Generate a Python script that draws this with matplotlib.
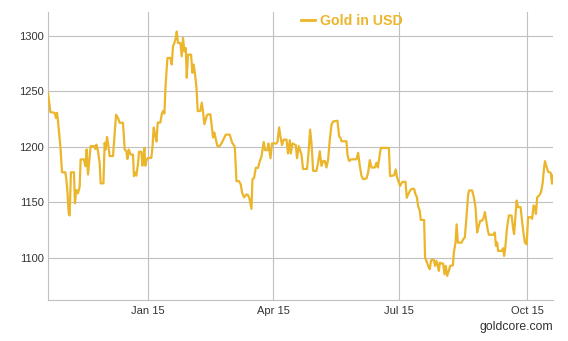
import matplotlib
matplotlib.use('Agg')
import matplotlib.pyplot as plt
import pandas as pd

# x values: days relative to 2015-01-01
days_from_2015_01_01 = [
    -72.0, -70.3, -67.2, -66.3, -65.5, -64.8, -63.1, -61.9, -59.5, -58.8,
    -58.1, -57.1, -56.4, -55.5, -53.3, -52.6, -51.6, -50.4, -49.2, -48.5,
    -46.1, -45.1, -44.2, -43.2, -42.2, -41.3, -38.9, -37.9, -37.2, -36.0,
    -34.8, -34.1, -32.1, -31.2, -30.5, -29.5, -28.5, -27.6, -25.2, -24.0,
    -23.0, -21.6, -20.4, -18.0, -16.8, -15.6, -14.8, -13.9, -12.5, -10.8, -10.1,
    -9.4, -8.4, -7.2, -6.5, -4.8, -4.0, -3.3, -2.6, -1.9, -1.2,
    0.0, 2.4, 3.2, 4.1, 5.0, 6.1, 7.0, 8.9, 9.9, 10.8,
    11.8, 12.7, 14.0, 16.1, 17.1, 18.0, 19.0, 20.0, 20.7, 21.6,
    23.3, 24.3, 25.2, 26.2, 27.2, 27.9, 28.8, 31.0, 32.0, 32.9,
    33.9, 34.9, 35.8, 37.7, 38.7, 39.6, 40.6, 41.6, 42.5, 43.5,
    44.9, 45.9, 46.8, 47.8, 48.8,
    50.0, 51.6, 53.3, 56.0, 58.8, 60.5, 62.5, 63.7, 65.5, 66.8,
    67.7, 69.1, 70.9, 72.0, 73.0, 74.5, 75.2, 76.4, 77.6, 79.2,
    80.7, 81.7, 83.3, 84.3, 86.0, 86.7, 88.2, 89.3, 92.5, 93.2,
    94.4, 95.4, 96.5, 97.7, 99.7, 100.8, 102.1, 102.8, 104.0, 106.4,
    107.3, 108.6,
    110.5, 111.6, 114.5, 115.8, 116.7, 117.7, 118.9, 121.3, 122.5, 123.7,
    124.9, 126.1, 127.3, 128.5, 129.7, 130.9, 132.1, 133.3, 136.4, 137.6,
    138.6, 139.3, 142.9, 143.6, 144.8, 146.5, 150.1, 151.3, 152.5, 153.7,
    154.9, 157.3, 158.5, 159.7, 160.9, 163.3, 164.5, 165.5, 166.4, 167.6,
    172.2, 173.4,
    174.3, 177.2, 178.4, 179.4, 180.6, 181.5, 183.0, 185.4, 186.3, 187.3,
    188.5, 189.7, 191.6, 192.6, 193.5, 194.5, 195.7, 196.4, 198.8, 199.5,
    200.5, 201.7, 202.9, 203.8, 205.8, 206.7, 207.7, 208.7, 209.4, 210.1,
    211.3, 212.5, 213.5, 214.4, 215.4, 216.6, 217.5, 219.5, 220.2, 221.4,
    222.2, 223.1, 225.8, 226.9, 228.1,
    229.1, 230.5, 231.2, 233.4, 234.6, 235.8, 237.0, 238.2, 239.2, 240.6,
    241.8, 242.6, 243.3, 244.5, 245.4, 248.5, 249.7, 250.5, 251.4, 252.1,
    254.6, 255.7, 256.4, 257.2, 258.4, 259.8, 261.8, 262.9, 263.6, 264.6,
    265.4, 266.5, 268.3, 269.4, 270.6, 271.4, 272.6, 273.7, 275.7, 276.6,
    277.6, 278.6, 279.3, 280.2, 281.7, 282.9, 284.1, 285.1, 285.8, 287.0,
    288.2, 289.9, 290.9, 291.6,
]

gold_usd = [
    1248.8, 1231.3, 1230.7, 1226, 1230.7, 1223, 1200.6, 1177, 1177, 1170.5,
    1161, 1140, 1138, 1177, 1177, 1149, 1161, 1158, 1164, 1188.6,
    1188.6, 1182.5, 1197.6, 1175, 1188.6, 1200.6, 1200.6, 1198, 1202, 1196,
    1185.5, 1167, 1167, 1203.6, 1197.6, 1209, 1200.6, 1191.6, 1191.6, 1212.6,
    1229, 1226, 1221.7, 1221.7, 1197.6, 1196, 1189, 1197.6, 1193, 1193, 1173.5,
    1177, 1174, 1184.4, 1195.5, 1195.5, 1183, 1192, 1199, 1183, 1187.4,
    1190, 1190, 1199.4, 1217.4, 1211.4, 1204.8, 1221.9, 1221.9, 1229.3, 1232.3,
    1230, 1256.3, 1280.2, 1280.2, 1274.3, 1290.7, 1293.7, 1298.2, 1304, 1293.7,
    1293.7, 1281.7, 1298.2, 1286.2, 1289.2, 1262.3, 1283.2, 1283.2, 1266.8, 1274.3,
    1265.3, 1253.3, 1232.3, 1232.3, 1239.8, 1232.3, 1220.4, 1224.8, 1228.7, 1229.3,
    1229.3, 1218.9, 1208.4, 1212.9, 1206.9,
    1200.6, 1200.6, 1204, 1211, 1211, 1204, 1200, 1169, 1169, 1166,
    1159, 1154.4, 1157, 1156.5, 1153.5, 1144, 1170.6, 1172, 1181, 1181,
    1188, 1191, 1204.4, 1197, 1197, 1203, 1189.7, 1203, 1203, 1204.4,
    1217.6, 1208.8, 1201.5, 1206.5, 1206.5, 1194, 1206, 1194, 1203, 1201.5,
    1189.7, 1200.6,
    1193, 1180, 1180, 1197.6, 1215.5, 1203.6, 1178.3, 1178.3, 1185.7, 1196,
    1182.7, 1187.2, 1187.2, 1181.3, 1188.7, 1206.5, 1220, 1222.9, 1223.5, 1209.5,
    1208, 1205, 1205, 1193, 1187.2, 1188.7, 1188.7, 1194.6, 1182.7, 1173.8,
    1170.8, 1171.4, 1176.8, 1188, 1181.3, 1181.3, 1185.7, 1181.3, 1188.7, 1199,
    1199, 1199,
    1173.6, 1174.2, 1179.6, 1172, 1167.6, 1164.6, 1168.2, 1168.5, 1154, 1157,
    1160, 1162, 1162, 1157, 1155, 1146.5, 1142, 1134, 1134, 1100,
    1097, 1092.5, 1089.5, 1097.6, 1098, 1092.5, 1097, 1092.5, 1088, 1095.5,
    1094.6, 1094.6, 1085, 1092.5, 1083.5, 1088, 1092.5, 1093, 1104.5, 1113.5,
    1130, 1113.5, 1113.5, 1116.5, 1118,
    1133, 1157, 1160.6, 1160.6, 1154.5, 1145.5, 1122.7, 1128.8, 1133.3, 1133.3,
    1136.4, 1141, 1135, 1125.8, 1120.6, 1120.6, 1122.7, 1110.6, 1113.6, 1106,
    1106, 1108.5, 1101.5, 1108.2, 1125.8, 1138, 1138, 1125.8, 1121.2, 1138,
    1151.5, 1145.5, 1145.5, 1131.8, 1119.7, 1113.6, 1112, 1136.4, 1136.4, 1135,
    1147, 1145.5, 1139.4, 1154.5, 1156, 1159, 1166.7, 1180.3, 1187, 1181.8,
    1177.3, 1176.7, 1166.7, 1174.2,
]

y_ticks = [1100, 1150, 1200, 1250, 1300]
x_tick_dates = ['2015-01-01', '2015-04-01', '2015-07-01', '2015-10-01']
x_tick_labels = ['Jan 15', 'Apr 15', 'Jul 15', 'Oct 15']
series_name = 'Gold in USD'
credit_text = 'goldcore.com'

GOLD = '#EBB62C'
GRID = '#C0C0C0'
TEXT = '#333333'

plt.rcParams['font.family'] = ['Liberation Sans', 'DejaVu Sans']

dates = pd.Timestamp('2015-01-01') + pd.to_timedelta(days_from_2015_01_01, unit='D')

W, H = 568, 341
fig = plt.figure(figsize=(W / 100, H / 100), dpi=100)
ax = fig.add_axes([48 / W, 1 - 300 / H, 505 / W, 288 / H])

ax.plot(dates, gold_usd, color=GOLD, lw=1.6, label=series_name, zorder=3)

ax.set_xlim(dates[0], dates[-1])
ax.set_ylim(1061.7, 1321.7)
ax.set_yticks(y_ticks)
ax.set_xticks(pd.to_datetime(x_tick_dates))
ax.set_xticklabels(x_tick_labels)

ax.grid(True, color=GRID, lw=0.8)
ax.set_axisbelow(True)
for s in ['top', 'right']:
    ax.spines[s].set_visible(False)
for s in ['left', 'bottom']:
    ax.spines[s].set_color(GRID)
    ax.spines[s].set_linewidth(0.8)

ax.tick_params(axis='both', length=0, labelsize=8, colors=TEXT)
ax.tick_params(axis='y', pad=2.8)
ax.tick_params(axis='x', pad=4)

leg = fig.legend(loc='center', bbox_to_anchor=(352 / W, 1 - 20.7 / H),
                 frameon=False, handlelength=1.0, handletextpad=0.35,
                 borderpad=0, borderaxespad=0,
                 prop={'weight': 'bold', 'size': 10.2})
for t in leg.get_texts():
    t.set_color(GOLD)
for l in leg.get_lines():
    l.set_linewidth(2.0)

fig.text(553 / W, 1 - 327.3 / H, credit_text, ha='right', va='center',
         fontsize=8.8, color=TEXT)

fig.savefig('out.png', dpi=100)
